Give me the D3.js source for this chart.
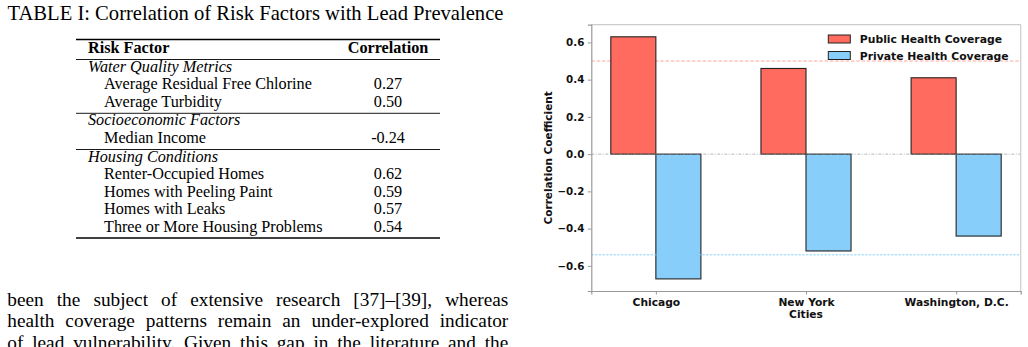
<!DOCTYPE html>
<html>
<head>
<meta charset="utf-8">
<script src="https://cdn.jsdelivr.net/npm/d3@7"></script>
<style>
  body { margin: 0; background: #fff; }
  svg { display: block; }
</style>
</head>
<body>
<div id="page"></div>
<script>
// ---- table data ----
var tableTitle = 'TABLE I: Correlation of Risk Factors with Lead Prevalence';
var tableHeader = ['Risk Factor', 'Correlation'];
var groupNames = ['Water Quality Metrics', 'Socioeconomic Factors', 'Housing Conditions'];
var groupFactors = [
  ['Average Residual Free Chlorine', 'Average Turbidity'],
  ['Median Income'],
  ['Renter-Occupied Homes', 'Homes with Peeling Paint', 'Homes with Leaks', 'Three or More Housing Problems']
];
var groupValues = [
  ['0.27', '0.50'],
  ['-0.24'],
  ['0.62', '0.59', '0.57', '0.54']
];
var paragraphLines = [
  'been the subject of extensive research [37]\u2013[39], whereas',
  'health coverage patterns remain an under-explored indicator',
  'of lead vulnerability. Given this gap in the literature and the'
];

// ---- chart data ----
var cities = ['Chicago', 'New York', 'Washington, D.C.'];
var seriesNames = ['Public Health Coverage', 'Private Health Coverage'];
var publicValues = [0.63, 0.46, 0.41];
var privateValues = [-0.67, -0.52, -0.44];
var yTicks = [-0.6, -0.4, -0.2, 0.0, 0.2, 0.4, 0.6];
var publicThreshold = 0.5;
var privateThreshold = -0.54;

var W = 1028, H = 347;
var serif = '"Liberation Serif", "Times New Roman", serif';
var sans = '"DejaVu Sans", sans-serif';
var colors = ['#FF6B5E', '#87CEFA'];

var svg = d3.select('#page').append('svg')
  .attr('width', W).attr('height', H);

/* ---------------- table ---------------- */
var tbl = svg.append('g').attr('font-family', serif).attr('font-size', 16.2).attr('fill', '#000');
tbl.append('text').attr('x', 255.5).attr('y', 20).attr('text-anchor', 'middle')
  .attr('font-size', 20.6)
  .text(tableTitle);

var ruleL = 76, ruleR = 440, colL = 88, indent = 104, colV = 388;
var rule = function(y, w) {
  tbl.append('line').attr('x1', ruleL).attr('x2', ruleR).attr('y1', y).attr('y2', y)
    .attr('stroke', '#000').attr('stroke-width', w);
};
rule(39.5, 1.4);
tbl.append('text').attr('x', colL).attr('y', 53).attr('font-weight', 'bold').text(tableHeader[0]);
tbl.append('text').attr('x', colV).attr('y', 53).attr('font-weight', 'bold')
  .attr('text-anchor', 'middle').text(tableHeader[1]);
rule(59.5, 0.9);

var y = 71.5;
groupNames.forEach(function(g, gi) {
  if (gi > 0) {
    rule(y - 11, 0.9);
    y += 1;
  }
  tbl.append('text').attr('x', colL).attr('y', y).attr('font-style', 'italic').text(g);
  y += 17.6;
  groupFactors[gi].forEach(function(f, fi) {
    tbl.append('text').attr('x', indent).attr('y', y).text(f);
    tbl.append('text').attr('x', colV).attr('y', y).attr('text-anchor', 'middle').text(groupValues[gi][fi]);
    y += 17.6;
  });
});
rule(y - 11.5, 1.4);

/* ---------------- justified paragraph ---------------- */
var para = svg.append('g').attr('font-family', serif).attr('font-size', 19.3).attr('fill', '#000');
var paraL = 7.3, paraR = 508.3;
paragraphLines.forEach(function(line, li) {
  var words = line.split(' ');
  var nodes = words.map(function(w) {
    return para.append('text').attr('y', 305.5 + li * 21.6).text(w);
  });
  var widths = nodes.map(function(n) { return n.node().getComputedTextLength(); });
  var gap = (paraR - paraL - d3.sum(widths)) / (words.length - 1);
  var cx = paraL;
  nodes.forEach(function(n, i) {
    n.attr('x', cx);
    cx += widths[i] + gap;
  });
});

/* ---------------- bar chart ---------------- */
var plot = { left: 591.3, right: 1020.7, top: 24.7, bottom: 291 };
var barWidth = 0.3;

var x = d3.scaleLinear()
  .domain([-barWidth - 0.13, cities.length - 1 + barWidth + 0.13])
  .range([plot.left, plot.right]);
var yScale = d3.scaleLinear()
  .domain([-0.735, 0.695])
  .range([plot.bottom, plot.top]);

var chart = svg.append('g').attr('font-family', sans).attr('font-weight', 'bold');

// reference line behind bars
chart.append('line')
  .attr('x1', plot.left).attr('x2', plot.right)
  .attr('y1', yScale(publicThreshold)).attr('y2', yScale(publicThreshold))
  .attr('stroke', '#FF6B5E').attr('stroke-opacity', 0.6)
  .attr('stroke-width', 1).attr('stroke-dasharray', '3.5,1.8');

var series = [publicValues, privateValues];
series.forEach(function(vals, si) {
  chart.append('g').selectAll('rect')
    .data(vals)
    .enter()
    .append('rect')
    .attr('x', function(d, i) { return x(i + (si === 0 ? -barWidth : 0)); })
    .attr('width', function(d, i) { return x(i + barWidth) - x(i); })
    .attr('y', function(d) { return yScale(Math.max(0, d)); })
    .attr('height', function(d) { return Math.abs(yScale(d) - yScale(0)); })
    .attr('fill', colors[si])
    .attr('stroke', '#222')
    .attr('stroke-width', 1.1);
});

chart.append('line')
  .attr('x1', plot.left).attr('x2', plot.right)
  .attr('y1', yScale(0)).attr('y2', yScale(0))
  .attr('stroke', '#999').attr('stroke-opacity', 0.8)
  .attr('stroke-width', 0.9).attr('stroke-dasharray', '3,1.5,1,1.5');

chart.append('line')
  .attr('x1', plot.left).attr('x2', plot.right)
  .attr('y1', yScale(privateThreshold)).attr('y2', yScale(privateThreshold))
  .attr('stroke', '#87CEFA').attr('stroke-opacity', 0.6)
  .attr('stroke-width', 1.6).attr('stroke-dasharray', '2.5,1.2');

// frame
chart.append('line').attr('x1', plot.left).attr('x2', plot.right)
  .attr('y1', plot.top).attr('y2', plot.top).attr('stroke', '#cccccc').attr('stroke-width', 1.2);
chart.append('line').attr('x1', plot.right).attr('x2', plot.right)
  .attr('y1', plot.top).attr('y2', plot.bottom).attr('stroke', '#cccccc').attr('stroke-width', 1.2);

// axes
var yAxis = d3.axisLeft(yScale).tickValues(yTicks).tickFormat(d3.format('.1f'))
  .tickSize(3.5).tickPadding(3.5);
var gy = chart.append('g').attr('transform', 'translate(' + plot.left + ',0)').call(yAxis);
gy.select('.domain').attr('stroke', '#999').attr('stroke-width', 1.2);
gy.selectAll('.tick line').attr('stroke', '#999');
gy.selectAll('.tick text').attr('font-family', sans).attr('font-size', 10.3)
  .attr('font-weight', 'bold').attr('fill', '#111');

var xAxis = d3.axisBottom(x).tickValues(d3.range(cities.length))
  .tickFormat(function(i) { return cities[i]; })
  .tickSize(3.5).tickPadding(4);
var gx = chart.append('g').attr('transform', 'translate(0,' + plot.bottom + ')').call(xAxis);
gx.select('.domain').attr('stroke', '#999').attr('stroke-width', 1.2);
gx.selectAll('.tick line').attr('stroke', '#999');
gx.selectAll('.tick text').attr('font-family', sans).attr('font-size', 10.7)
  .attr('font-weight', 'bold').attr('fill', '#111');

// axis labels
chart.append('text')
  .attr('transform', 'translate(551.5,' + (plot.top + plot.bottom) / 2 + ') rotate(-90)')
  .attr('text-anchor', 'middle').attr('font-size', 10.5).attr('fill', '#111')
  .text('Correlation Coefficient');
chart.append('text')
  .attr('x', (plot.left + plot.right) / 2).attr('y', 317.5)
  .attr('text-anchor', 'middle').attr('font-size', 10.7).attr('fill', '#111')
  .text('Cities');

// legend
var legend = chart.append('g').attr('transform', 'translate(828.3,35)');
var legendRows = legend.selectAll('g').data(seriesNames).enter().append('g')
  .attr('transform', function(d, i) { return 'translate(0,' + i * 16.5 + ')'; });
legendRows.append('rect')
  .attr('width', 22).attr('height', 8)
  .attr('fill', function(d, i) { return colors[i]; })
  .attr('stroke', '#222').attr('stroke-width', 1);
legendRows.append('text')
  .attr('x', 31.5).attr('y', 8.2)
  .attr('font-size', 10.8).attr('fill', '#111')
  .text(function(d) { return d; });
</script>
</body>
</html>
